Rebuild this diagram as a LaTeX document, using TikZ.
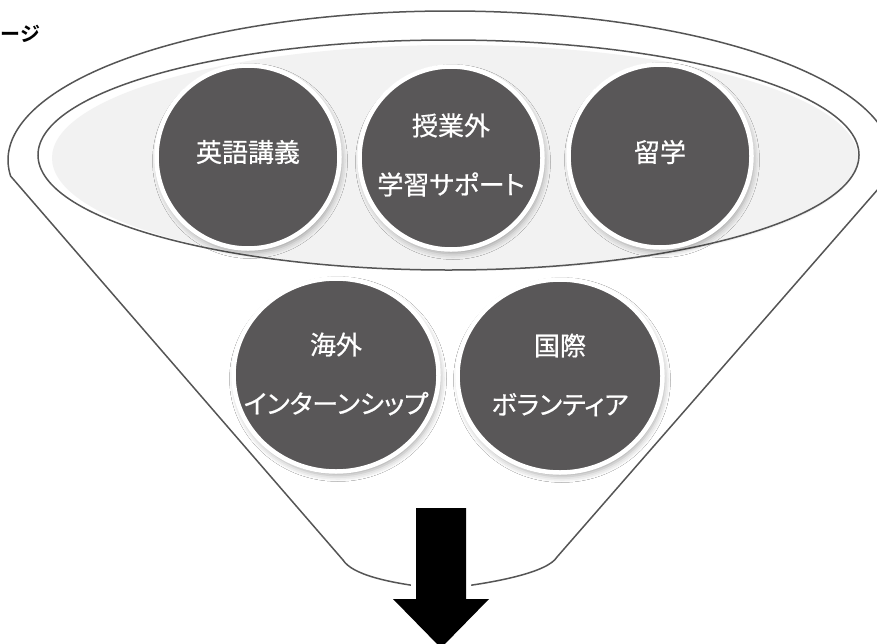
\documentclass[tikz,border=0pt]{standalone}
\usepackage{fontspec}
\newfontfamily\jp[RawFeature=+palt, FakeBold=0.6]{Noto Sans CJK JP}
\newfontfamily\jpbold[RawFeature=+palt]{Noto Sans CJK JP Bold}
\usetikzlibrary{shapes.geometric,shadows.blur}
\definecolor{dk}{HTML}{595758}
\definecolor{ln}{HTML}{555555}
\definecolor{fl}{HTML}{F2F2F2}
\begin{document}
\begin{tikzpicture}[x=1pt,y=-1pt,
  outline/.style={draw=ln, line width=1.5pt},
  ball/.style={circle, fill=dk, draw=white, line width=4.5pt, minimum size=183pt, inner sep=0pt,
    blur shadow={shadow xshift=2pt, shadow yshift=-4pt, shadow blur radius=6pt, shadow opacity=35}},
  ballL/.style={ball, ellipse, minimum width=205pt, minimum height=193pt},
  balltext/.style={text=white, align=center, inner sep=0pt, font=\jp\fontsize{26}{59}\selectfont}]
\useasboundingbox[fill=white] (0,0) rectangle (877,643);
% inner ellipse
\fill[fl] (455,158) ellipse[x radius=403pt, y radius=113pt];
\draw[outline] (448.5,155) ellipse[x radius=410.5pt, y radius=115pt];
% funnel outline
\draw[outline, line join=round] (343,560) -- plot[domain=173.8:366.2,samples=150] ({450+442*cos(\x)},{160+149*sin(\x)})
  -- (557,557) .. controls (548,572) and (497,583) .. (441,589) .. controls (385,583) and (352,574) .. (343,560);
% circles
\node[ball] (c1) at (248,157) {};
\node[ball] (c2) at (451,158) {};
\node[ball] (c3) at (660,156) {};
\node[ballL] (c4) at (336,375) {};
\node[ballL] (c5) at (560,376) {};
\node[balltext] (t1) at ([yshift=5pt]c1) {英語講義};
\node[balltext] (t2) at ([yshift=3pt]c2) {授業外\\学習サポート};
\node[balltext] (t3) at ([yshift=4pt]c3) {留学};
\node[balltext] (t4) at ([yshift=1pt]c4) {海外\\インターンシップ};
\node[balltext] (t5) at ([yshift=1pt]c5) {国際\\ボランティア};
% arrow
\draw[white, line width=10pt, line join=miter] (416,508) -- (466,508) -- (466,599) -- (489,599) -- (441,648) -- (393,599) -- (416,599) -- cycle;
\fill[black] (416,508) -- (466,508) -- (466,599) -- (489,599) -- (441,648) -- (393,599) -- (416,599) -- cycle;
% title (cut off in the source)
\node[anchor=base west, inner sep=0pt, font=\jpbold\fontsize{20}{24}\selectfont] (title) at (1,41) {ージ};
\end{tikzpicture}
\end{document}
